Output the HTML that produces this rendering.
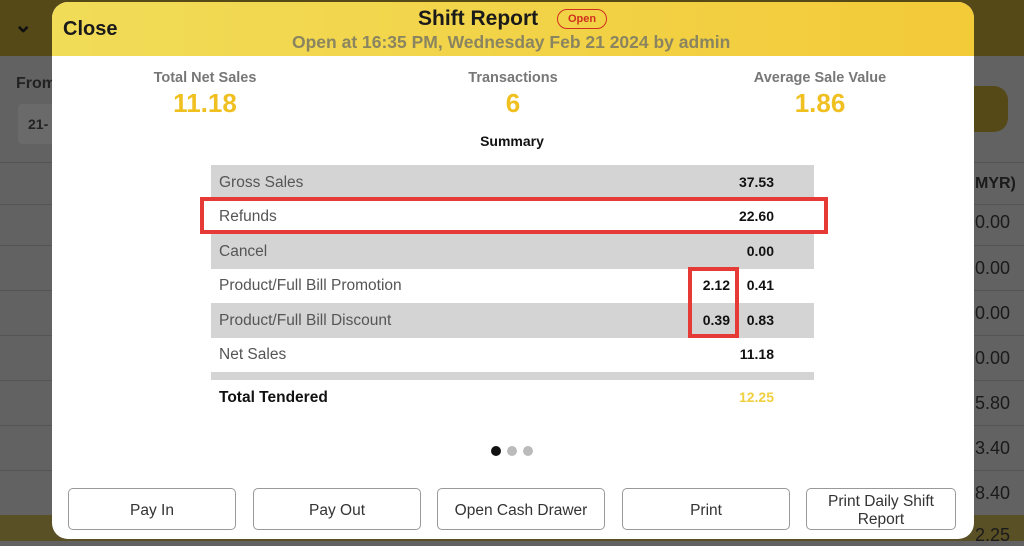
<!DOCTYPE html>
<html><head><meta charset="utf-8"><style>
*{margin:0;padding:0;box-sizing:border-box}
body{width:1024px;height:541px;overflow:hidden;position:relative;background:#626262;font-family:"Liberation Sans",sans-serif}
.a{position:absolute}
.hl{position:absolute;left:0;width:1024px;height:1px;background:#555}
.rt{position:absolute;left:975px;font-size:18px;color:#1a1a1a}
.row{position:absolute;left:211px;width:603px;height:35px;font-size:15.5px;color:#555;padding-left:8px;line-height:35px}
.g{background:#d4d4d4}
.v{position:absolute;right:40px;top:0;color:#111;font-weight:bold;font-size:14px}
.btn{position:absolute;top:488px;height:42px;border:1px solid #999;border-radius:5px;background:#fff;font-size:15.5px;color:#333;display:flex;align-items:center;justify-content:center;text-align:center;line-height:18px;padding-top:3px}
.lab{position:absolute;font-size:14.5px;color:#777;font-weight:bold;text-align:center;width:200px}
.num{position:absolute;font-size:26px;color:#f0c020;font-weight:bold;text-align:center;width:200px}
</style></head><body>
<div class="a" style="left:0;top:0;width:1024px;height:56px;background:#554918"></div>
<div class="a" style="left:14px;top:12px;font-size:22px;color:#111;font-weight:bold">&#8964;</div>
<div class="a" style="left:16px;top:75px;font-size:16px;color:#222;font-weight:bold">From</div>
<div class="a" style="left:18px;top:104px;width:40px;height:40px;background:#6a6a6a;border-radius:4px;font-size:14px;color:#222;font-weight:bold;padding:12px 10px">21-</div>
<div class="a" style="left:960px;top:86px;width:48px;height:46px;background:#554918;border-radius:14px"></div>
<div class="hl" style="top:162px"></div><div class="hl" style="top:204px"></div><div class="hl" style="top:245px"></div><div class="hl" style="top:290px"></div><div class="hl" style="top:335px"></div><div class="hl" style="top:380px"></div><div class="hl" style="top:425px"></div><div class="hl" style="top:470px"></div>
<div class="a" style="left:0;top:515px;width:1024px;height:26px;background:#5a5026"></div>
<div class="rt" style="top:175px;font-weight:bold;font-size:16px">MYR)</div>
<div class="rt" style="top:212px">0.00</div><div class="rt" style="top:258px">0.00</div><div class="rt" style="top:303px">0.00</div><div class="rt" style="top:348px">0.00</div><div class="rt" style="top:393px">5.80</div><div class="rt" style="top:438px">3.40</div><div class="rt" style="top:483px">8.40</div><div class="rt" style="top:525px">2.25</div>

<div class="a" style="left:52px;top:2px;width:922px;height:537px;background:#fff;border-radius:16px;overflow:hidden">
 <div class="a" style="left:0;top:0;width:922px;height:54px;background:linear-gradient(90deg,#f1dc58,#f3ca38)"></div>
 <div class="a" style="left:11px;top:16px;font-size:20px;font-weight:bold;color:#1a1a1a">Close</div>
 <div class="a" style="left:366px;top:5px;font-size:21px;font-weight:bold;color:#1a1a1a">Shift Report</div>
 <div class="a" style="left:505px;top:7px;width:50px;height:20px;border:1px solid #d03020;border-radius:10px;font-size:11px;color:#d03020;font-weight:bold;text-align:center;line-height:18px">Open</div>
 <div class="a" style="left:240px;top:30px;font-size:17.5px;font-weight:bold;color:#8a8560">Open at 16:35 PM, Wednesday Feb 21 2024 by admin</div>
 <div class="lab" style="left:53px;top:68px">Total Net Sales</div>
 <div class="num" style="left:53px;top:86px">11.18</div>
 <div class="lab" style="left:361px;top:68px">Transactions</div>
 <div class="num" style="left:361px;top:86px">6</div>
 <div class="lab" style="left:668px;top:68px">Average Sale Value</div>
 <div class="num" style="left:668px;top:86px">1.86</div>
 <div class="a" style="left:360px;top:131px;width:200px;text-align:center;font-size:14px;font-weight:bold;color:#111">Summary</div>
</div>

<div class="row g" style="top:165px">Gross Sales<span class="v">37.53</span></div>
<div class="row" style="top:199px">Refunds<span class="v">22.60</span></div>
<div class="row g" style="top:234px">Cancel<span class="v">0.00</span></div>
<div class="row" style="top:268px">Product/Full Bill Promotion<span class="v" style="right:84px">2.12</span><span class="v">0.41</span></div>
<div class="row g" style="top:303px">Product/Full Bill Discount<span class="v" style="right:84px">0.39</span><span class="v">0.83</span></div>
<div class="row" style="top:337px">Net Sales<span class="v">11.18</span></div>
<div class="a" style="left:211px;top:372px;width:603px;height:8px;background:#d4d4d4"></div>
<div class="row" style="top:380px;color:#111;font-weight:bold">Total Tendered<span class="v" style="color:#f0d040">12.25</span></div>
<div class="a" style="left:200px;top:197px;width:628px;height:37px;border:4px solid #e53a35"></div>
<div class="a" style="left:688px;top:267px;width:51px;height:71px;border:4px solid #e53a35"></div>

<div class="a" style="left:491px;top:446px;width:10px;height:10px;border-radius:50%;background:#111"></div>
<div class="a" style="left:507px;top:446px;width:10px;height:10px;border-radius:50%;background:#bbb"></div>
<div class="a" style="left:523px;top:446px;width:10px;height:10px;border-radius:50%;background:#bbb"></div>

<div class="btn" style="left:68px;width:168px">Pay In</div>
<div class="btn" style="left:253px;width:168px">Pay Out</div>
<div class="btn" style="left:437px;width:168px">Open Cash Drawer</div>
<div class="btn" style="left:622px;width:168px">Print</div>
<div class="btn" style="left:806px;width:150px">Print Daily Shift<br>Report</div>
</body></html>
